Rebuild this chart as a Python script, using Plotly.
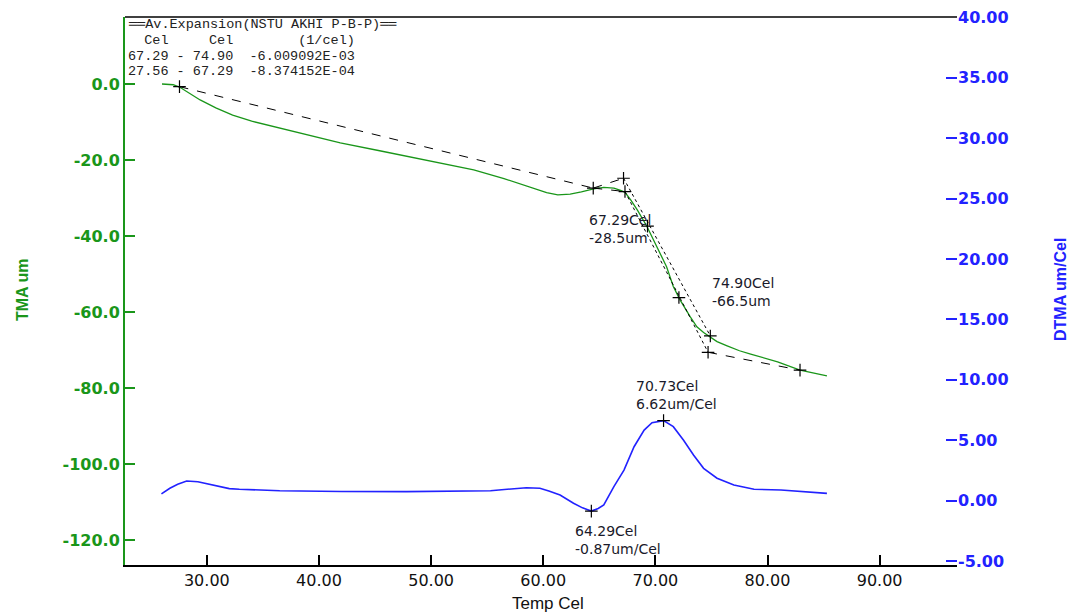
import plotly.graph_objects as go

# ---------------- data ----------------
# TMA curve (left axis, um)
tma_temp = [26.0, 27.0, 27.56, 28.5, 29.4, 30.8, 32.3, 34.0, 35.9, 38.9, 41.9, 45.3, 48.7, 51.3,
            53.8, 56.5, 59.1, 60.3, 61.3, 62.4, 63.4, 64.5, 65.4, 66.3, 66.9, 67.29, 67.8, 68.4,
            69.25, 70.1, 71.0, 71.6, 72.2, 73.1, 73.7, 74.3, 74.9, 75.5, 76.4, 77.5, 78.5, 80.9,
            82.9, 85.3]
tma_um = [0.0, -0.2, -0.8, -2.6, -4.2, -6.3, -8.2, -9.8, -11.2, -13.4, -15.5, -17.5, -19.5, -21.0,
          -22.6, -24.9, -27.4, -28.6, -29.2, -29.0, -28.4, -27.6, -27.2, -27.4, -28.0, -28.5, -30.5, -33.2,
          -37.5, -42.8, -48.1, -53.3, -56.8, -61.2, -63.9, -65.4, -66.5, -67.8, -68.9, -70.2, -71.1, -73.1,
          -75.3, -76.8]

# DTMA curve (right axis, um/Cel)
dtma_temp = [25.95, 26.7, 27.4, 28.2, 29.2, 30.9, 32.0, 32.9, 36.5, 42.0, 47.8, 55.3, 56.2, 57.5,
             58.5, 59.7, 60.5, 61.5, 62.7, 63.5, 64.29, 64.9, 65.4, 66.3, 67.2, 68.1, 69.0, 69.7,
             70.73, 71.6, 72.5, 73.4, 74.3, 75.5, 77.0, 78.8, 81.2, 85.3]
dtma_val = [0.55, 1.02, 1.35, 1.62, 1.56, 1.23, 0.99, 0.94, 0.82, 0.76, 0.74, 0.82, 0.88, 1.0,
            1.07, 1.02, 0.8, 0.46, -0.22, -0.6, -0.87, -0.65, -0.36, 1.15, 2.53, 4.46, 5.84, 6.45,
            6.62, 6.12, 5.02, 3.77, 2.67, 1.85, 1.29, 0.94, 0.88, 0.6]

# construction lines (tangents) on TMA
tan_a_temp = [27.56, 64.46]
tan_a_um = [-0.7, -27.4]
tan_b_temp = [64.46, 67.16]
tan_b_um = [-27.4, -24.8]
tan_c_temp = [64.46, 67.29]
tan_c_um = [-27.4, -28.3]
tan_d_temp = [67.16, 74.9]
tan_d_um = [-24.8, -66.3]
tan_e_temp = [67.29, 74.7]
tan_e_um = [-28.3, -70.6]
tan_f_temp = [74.7, 82.9]
tan_f_um = [-70.6, -75.3]

tma_mark_temp = [27.56, 64.46, 67.16, 67.29, 69.3, 72.1, 74.9, 74.7, 82.9]
tma_mark_um = [-0.7, -27.4, -24.8, -28.3, -37.4, -56.2, -66.3, -70.6, -75.3]

dtma_mark_temp = [64.29, 70.73]
dtma_mark_val = [-0.87, 6.62]

x_ticks = [30, 40, 50, 60, 70, 80, 90]
x_ticktext = ["30.00", "40.00", "50.00", "60.00", "70.00", "80.00", "90.00"]
y_ticks = [0, -20, -40, -60, -80, -100, -120]
y_ticktext = ["0.0", "-20.0", "-40.0", "-60.0", "-80.0", "-100.0", "-120.0"]
y2_ticks = [40, 35, 30, 25, 20, 15, 10, 5, 0, -5]
y2_ticktext = ["40.00", "35.00", "30.00", "25.00", "20.00", "15.00", "10.00", "5.00", "0.00", "-5.00"]

legend_lines = [
    "══Av.Expansion(NSTU AKHI P-B-P)══",
    "\u00a0\u00a0Cel\u00a0\u00a0\u00a0\u00a0\u00a0Cel\u00a0\u00a0\u00a0\u00a0\u00a0\u00a0\u00a0\u00a0(1/cel)",
    "67.29\u00a0-\u00a074.90\u00a0\u00a0-6.009092E-03",
    "27.56\u00a0-\u00a067.29\u00a0\u00a0-8.374152E-04",
]

GREEN = "#1a961a"
BLUE = "#2222ff"

fig = go.Figure()
fig.add_trace(go.Scatter(x=tma_temp, y=tma_um, mode="lines", line=dict(color=GREEN, width=1.3),
                         yaxis="y", hoverinfo="skip"))
for tx, ty, dash in [(tan_a_temp, tan_a_um, "dash"), (tan_b_temp, tan_b_um, "dash"),
                     (tan_c_temp, tan_c_um, "dash"), (tan_d_temp, tan_d_um, "dot"),
                     (tan_e_temp, tan_e_um, "dot"), (tan_f_temp, tan_f_um, "dash")]:
    fig.add_trace(go.Scatter(x=tx, y=ty, mode="lines", line=dict(color="black", width=1, dash=dash),
                             yaxis="y"))
fig.add_trace(go.Scatter(x=tma_mark_temp, y=tma_mark_um, mode="markers",
                         marker=dict(symbol="cross-thin", size=9, line=dict(color="black", width=1.2)),
                         yaxis="y"))
fig.add_trace(go.Scatter(x=dtma_temp, y=dtma_val, mode="lines", line=dict(color=BLUE, width=1.6),
                         yaxis="y2"))
fig.add_trace(go.Scatter(x=dtma_mark_temp, y=dtma_mark_val, mode="markers",
                         marker=dict(symbol="cross-thin", size=9, line=dict(color="black", width=1.2)),
                         yaxis="y2"))

ann = []
callouts = [
    (63.9, -38.2, "y", "67.29Cel<br>-28.5um"),
    (74.9, -54.7, "y", "74.90Cel<br>-66.5um"),
    (68.1, 8.74, "y2", "70.73Cel<br>6.62um/Cel"),
    (62.67, -3.26, "y2", "64.29Cel<br>-0.87um/Cel"),
]
for cx, cy, yr, txt in callouts:
    ann.append(dict(x=cx, y=cy, xref="x", yref=yr, text=txt, showarrow=False, xanchor="left",
                    yanchor="middle", align="left",
                    font=dict(family="DejaVu Sans", size=14, color="#1a1a2a")))

leg_y_px = [25, 40.5, 56, 71.5]
for line, py in zip(legend_lines, leg_y_px):
    ann.append(dict(x=(127 - 125) / 832, y=(565 - py) / 548, xref="paper", yref="paper", text=line,
                    showarrow=False, xanchor="left", yanchor="middle", borderpad=0,
                    font=dict(family="Liberation Mono", size=13.5, color="#222222")))

ann.append(dict(x=(22 - 125) / 832, y=(565 - 290) / 548, xref="paper", yref="paper", text="TMA um",
                showarrow=False, textangle=-90, xanchor="center", yanchor="middle",
                font=dict(family="Liberation Sans", size=16, color=GREEN, weight="bold")))
ann.append(dict(x=(1060 - 125) / 832, y=(565 - 290) / 548, xref="paper", yref="paper", text="DTMA um/Cel",
                showarrow=False, textangle=-90, xanchor="center", yanchor="middle",
                font=dict(family="Liberation Sans", size=16, color=BLUE, weight="bold")))
ann.append(dict(x=(548 - 125) / 832, y=(565 - 603) / 548, xref="paper", yref="paper", text="Temp Cel",
                showarrow=False, xanchor="center", yanchor="middle",
                font=dict(family="Liberation Sans", size=17, color="#111111")))

fig.update_layout(
    width=1074, height=613,
    margin=dict(l=125, r=117, t=17, b=48, autoexpand=False),
    plot_bgcolor="white", paper_bgcolor="white",
    showlegend=False,
    annotations=ann,
    shapes=[dict(type="line", xref="paper", yref="paper", x0=0, x1=1, y0=1, y1=1,
                 line=dict(color="black", width=1.5))],
    xaxis=dict(range=[22.7, 96.9], tickvals=x_ticks, ticktext=x_ticktext, showgrid=False,
               zeroline=False, showline=True, linecolor="black", linewidth=2, automargin=False,
               ticks="inside", ticklen=10, tickwidth=1.5, tickcolor="black",
               tickfont=dict(family="DejaVu Sans", size=16, color="#111111")),
    yaxis=dict(range=[-126.58, 17.63], tickvals=y_ticks, ticktext=y_ticktext, showgrid=False,
               zeroline=False, showline=True, linecolor=GREEN, linewidth=2, automargin=False,
               ticks="inside", ticklen=10, tickwidth=1.5, tickcolor=GREEN,
               tickfont=dict(family="DejaVu Sans", size=16, color=GREEN, weight="bold")),
    yaxis2=dict(range=[-5.33, 40.03], tickvals=y2_ticks, ticktext=y2_ticktext, showgrid=False,
                zeroline=False, showline=False, overlaying="y", side="right", automargin=False,
                ticks="inside", ticklen=11, tickwidth=2, tickcolor=BLUE,
                tickfont=dict(family="DejaVu Sans", size=16, color=BLUE, weight="bold")),
)

fig.write_html("out.html")
